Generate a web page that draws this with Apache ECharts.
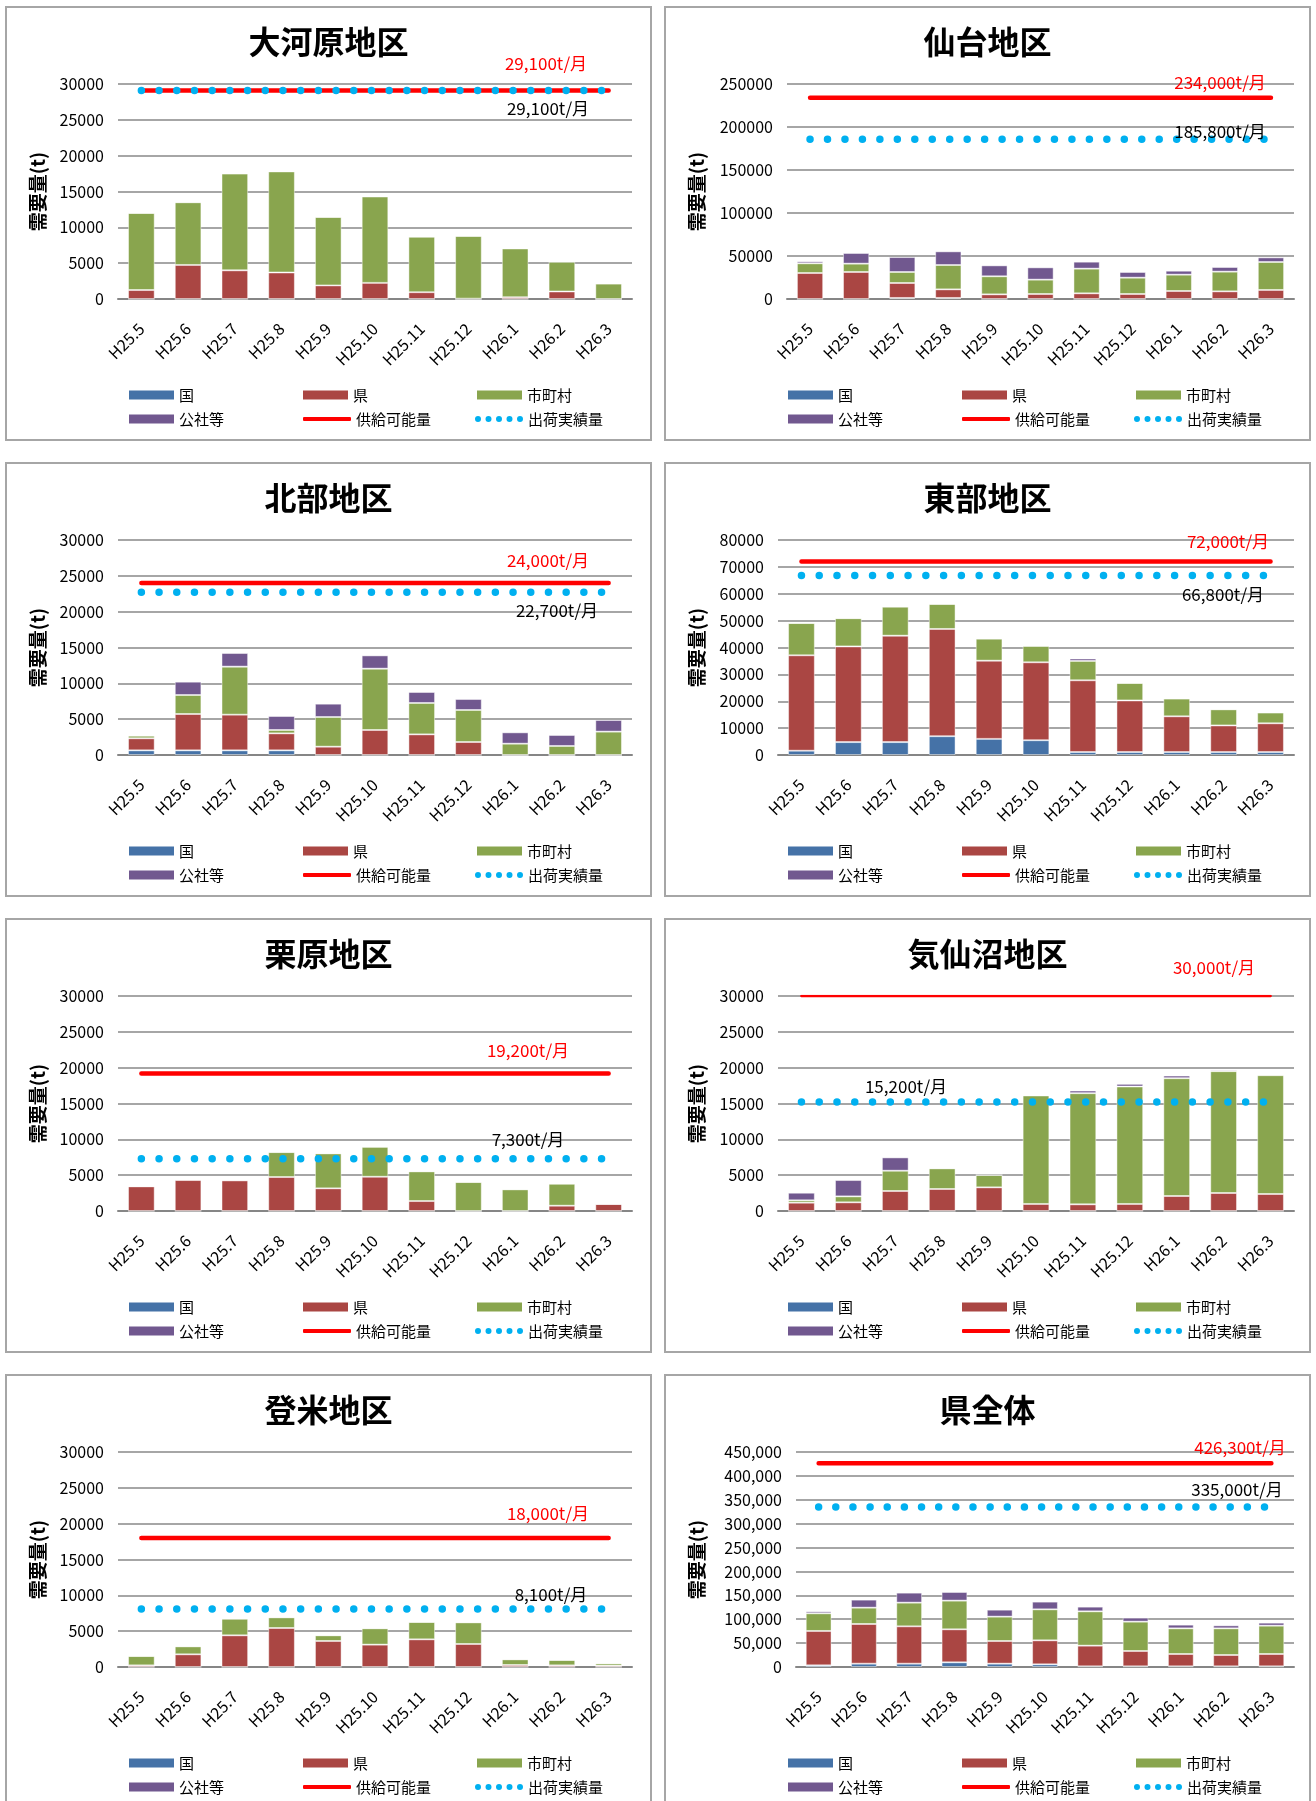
<!DOCTYPE html>
<html>
<head>
<meta charset="utf-8">
<script src="https://cdn.jsdelivr.net/npm/echarts@6.0.0/dist/echarts.min.js"></script>
<style>
  html, body { margin: 0; padding: 0; background: #fff; overflow: hidden; }
  .panel {
    position: absolute;
    width: 647px;
    height: 435px;
    box-sizing: border-box;
    border: 2px solid #a6a6a6;
    background: #fff;
  }
</style>
</head>
<body>
<script>
  const FONT = '"Noto Sans CJK JP", "Noto Sans", sans-serif'

  const categories = ['H25.5', 'H25.6', 'H25.7', 'H25.8', 'H25.9', 'H25.10', 'H25.11', 'H25.12', 'H26.1', 'H26.2', 'H26.3']
  const regionTitles = ['大河原地区', '仙台地区', '北部地区', '東部地区', '栗原地区', '気仙沼地区', '登米地区', '県全体']

  // 大河原地区
  const oogawaraKuni = [0, 0, 0, 0, 0, 0, 0, 0, 0, 0, 0]
  const oogawaraKen = [1250, 4750, 4000, 3700, 1900, 2250, 950, 50, 250, 1050, 0]
  const oogawaraShichoson = [10750, 8750, 13500, 14100, 9550, 12050, 7750, 8750, 6800, 4150, 2150]
  const oogawaraKosha = [0, 0, 0, 0, 0, 0, 0, 0, 0, 0, 0]

  // 仙台地区
  const sendaiKuni = [0, 0, 1200, 1200, 0, 0, 0, 0, 0, 0, 0]
  const sendaiKen = [30200, 31400, 17400, 10000, 5400, 5800, 6600, 5800, 9300, 8900, 10500]
  const sendaiShichoson = [11300, 9700, 12800, 28300, 21000, 16700, 28700, 19000, 19000, 22900, 32500]
  const sendaiKosha = [2300, 12400, 17400, 15900, 12700, 14300, 8100, 6600, 4600, 5400, 5400]

  // 北部地区
  const hokubuKuni = [650, 650, 650, 650, 0, 0, 0, 0, 0, 0, 0]
  const hokubuKen = [1680, 5070, 4980, 2370, 1160, 3490, 2880, 1810, 0, 0, 0]
  const hokubuShichoson = [370, 2650, 6700, 470, 4140, 8560, 4380, 4470, 1580, 1260, 3260]
  const hokubuKosha = [0, 1860, 1900, 1950, 1860, 1850, 1530, 1530, 1580, 1530, 1620]

  // 東部地区
  const toubuKuni = [1600, 4800, 4800, 7000, 6000, 5500, 1100, 1100, 1100, 1100, 1100]
  const toubuKen = [35500, 35600, 39600, 39900, 29100, 29000, 26700, 19200, 13300, 9900, 10700]
  const toubuShichoson = [12000, 10500, 10800, 9300, 8200, 6100, 7200, 6500, 6600, 6000, 4000]
  const toubuKosha = [0, 0, 0, 0, 0, 0, 900, 0, 0, 0, 0]

  // 栗原地区
  const kuriharaKuni = [0, 0, 0, 0, 0, 0, 0, 0, 0, 0, 0]
  const kuriharaKen = [3440, 4320, 4270, 4740, 3160, 4780, 1390, 0, 0, 740, 980]
  const kuriharaShichoson = [0, 90, 140, 3480, 4880, 4180, 4140, 4040, 3020, 3070, 0]
  const kuriharaKosha = [0, 0, 0, 0, 0, 0, 0, 0, 0, 0, 0]

  // 気仙沼地区
  const kesennumaKuni = [0, 0, 0, 0, 0, 0, 0, 0, 0, 0, 0]
  const kesennumaKen = [1160, 1210, 2790, 3070, 3300, 980, 930, 980, 2090, 2510, 2370]
  const kesennumaShichoson = [330, 830, 2830, 2880, 1720, 15140, 15510, 16390, 16440, 17000, 16580]
  const kesennumaKosha = [1060, 2280, 1860, 0, 0, 0, 370, 370, 370, 180, 140]

  // 登米地区
  const tomeKuni = [0, 0, 0, 0, 0, 0, 0, 0, 0, 0, 0]
  const tomeKen = [230, 1770, 4420, 5440, 3630, 3120, 3860, 3210, 280, 230, 190]
  const tomeShichoson = [1300, 1110, 2320, 1490, 790, 2280, 2420, 3020, 790, 750, 320]
  const tomeKosha = [0, 0, 0, 0, 0, 0, 0, 0, 0, 0, 0]

  // 県全体
  const zentaiKuni = [3500, 7000, 7000, 9800, 7000, 5600, 1400, 1400, 1400, 1400, 1400]
  const zentaiKen = [71900, 83000, 78100, 69100, 47400, 50200, 43300, 32100, 25800, 23700, 25800]
  const zentaiShichoson = [37000, 34200, 49600, 60000, 51000, 64900, 71800, 61400, 53700, 55800, 59300]
  const zentaiKosha = [4100, 16800, 20900, 18100, 14600, 16100, 9800, 8400, 7700, 6300, 6300]

  // 供給可能量 / 出荷実績量 (t/月)
  const supplyCapacity = [29100, 234000, 24000, 72000, 19200, 30000, 18000, 426300]
  const shipmentActual = [29100, 185800, 22700, 66800, 7300, 15200, 8100, 335000]

  // 縦軸
  const axisMax = [30000, 250000, 30000, 80000, 30000, 30000, 30000, 450000]
  const axisInterval = [5000, 50000, 5000, 10000, 5000, 5000, 5000, 50000]

  const regionSeries = [
    [oogawaraKuni, oogawaraKen, oogawaraShichoson, oogawaraKosha],
    [sendaiKuni, sendaiKen, sendaiShichoson, sendaiKosha],
    [hokubuKuni, hokubuKen, hokubuShichoson, hokubuKosha],
    [toubuKuni, toubuKen, toubuShichoson, toubuKosha],
    [kuriharaKuni, kuriharaKen, kuriharaShichoson, kuriharaKosha],
    [kesennumaKuni, kesennumaKen, kesennumaShichoson, kesennumaKosha],
    [tomeKuni, tomeKen, tomeShichoson, tomeKosha],
    [zentaiKuni, zentaiKen, zentaiShichoson, zentaiKosha]
  ]

  const barNames = ['国', '県', '市町村', '公社等']
  const barColors = ['#4572A7', '#AA4643', '#89A54E', '#71588F']

  // パネル配置（ピクセル）
  const layout = [
    { left: 5, top: 6, gridLeft: 111, gridRight: 18, red: [539, 56], black: [541, 101] },
    { left: 664, top: 6, gridLeft: 121, gridRight: 15, red: [554, 75], black: [554, 124] },
    { left: 5, top: 462, gridLeft: 111, gridRight: 18, red: [541, 97], black: [550, 147] },
    { left: 664, top: 462, gridLeft: 112, gridRight: 15, red: [562, 78], black: [557, 131] },
    { left: 5, top: 918, gridLeft: 111, gridRight: 18, red: [521, 131], black: [521, 220] },
    { left: 664, top: 918, gridLeft: 112, gridRight: 15, red: [548, 48], black: [240, 167], supplyWidth: 2.5 },
    { left: 5, top: 1374, gridLeft: 111, gridRight: 18, red: [541, 138], black: [544, 219] },
    { left: 664, top: 1374, gridLeft: 130, gridRight: 15, red: [574, 72], black: [571, 114], comma: true }
  ]

  const GRID_TOP = 76
  const GRID_HEIGHT = 215
  const LEGEND_ROW1 = 387
  const LEGEND_ROW2 = 411
  const LEGEND_COLS = [122, 296, 470]

  // 凡例用の点線アイコン
  const DOT_ICON = 'path://' + [0, 10.5, 21, 31.5, 42].map(function (x) {
    return 'M' + x + ',3a3,3 0 1,0 6,0a3,3 0 1,0 -6,0Z'
  }).join(' ')

  function fmt(v) {
    return v.toLocaleString('en-US')
  }

  function legendItem(name, col, row, opts) {
    return Object.assign({
      data: [name],
      left: LEGEND_COLS[col],
      top: (row === 0 ? LEGEND_ROW1 : LEGEND_ROW2) - 7.5,
      padding: 0,
      icon: 'rect',
      itemWidth: 45,
      itemHeight: 9,
      selectedMode: false,
      itemStyle: { borderWidth: 0 },
      textStyle: { fontSize: 15, color: '#000', fontFamily: FONT }
    }, opts || {})
  }

  function buildOption(i, width) {
    const lay = layout[i]
    const plotW = width - lay.gridLeft - lay.gridRight
    const catW = plotW / categories.length
    const dotPeriod = catW * (categories.length - 1) / 26.4

    const series = regionSeries[i].map(function (vals, k) {
      return {
        name: barNames[k],
        type: 'bar',
        stack: 'total',
        barCategoryGap: '43%',
        data: vals,
        itemStyle: { color: barColors[k], borderColor: 'rgba(255,255,255,0.45)', borderWidth: 1 }
      }
    })
    series.push({
      name: '供給可能量',
      type: 'line',
      symbol: 'none',
      data: categories.map(function () { return supplyCapacity[i] }),
      itemStyle: { color: '#ff0000' },
      lineStyle: { color: '#ff0000', width: lay.supplyWidth || 4.5, cap: 'round' },
      z: 5
    })
    series.push({
      name: '出荷実績量',
      type: 'line',
      symbol: 'none',
      data: categories.map(function () { return shipmentActual[i] }),
      itemStyle: { color: '#00b0f0' },
      lineStyle: { color: '#00b0f0', width: 7.5, type: [0, dotPeriod], cap: 'round' },
      z: 6
    })

    const labelStyle = function (color) {
      return {
        fill: color,
        fontSize: 17,
        fontFamily: FONT,
        align: 'center',
        verticalAlign: 'middle',
        textAlign: 'center',
        textVerticalAlign: 'middle'
      }
    }

    return {
      animation: false,
      textStyle: { fontFamily: FONT },
      title: {
        text: regionTitles[i],
        left: 'center',
        top: 18,
        padding: 0,
        textStyle: { fontSize: 32, fontWeight: 'bold', color: '#000', fontFamily: FONT }
      },
      grid: {
        left: lay.gridLeft,
        right: lay.gridRight,
        top: GRID_TOP,
        height: GRID_HEIGHT,
        containLabel: false,
        outerBoundsMode: 'none'
      },
      xAxis: {
        type: 'category',
        data: categories,
        axisTick: { show: false },
        axisLine: { lineStyle: { color: '#868686', width: 2 } },
        axisLabel: { rotate: 45, margin: 27, fontSize: 16, color: '#000', interval: 0, fontFamily: FONT },
        splitLine: { show: false }
      },
      yAxis: {
        type: 'value',
        min: 0,
        max: axisMax[i],
        interval: axisInterval[i],
        name: '需要量(t)',
        nameLocation: 'middle',
        nameRotate: 90,
        nameGap: lay.gridLeft - 40,
        nameTextStyle: { fontSize: 19, fontWeight: 'bold', color: '#000', fontFamily: FONT },
        axisLine: { show: false },
        axisTick: { show: false },
        axisLabel: {
          fontSize: 16,
          color: '#000',
          margin: 14,
          fontFamily: FONT,
          formatter: lay.comma ? fmt : function (v) { return String(v) }
        },
        splitLine: { lineStyle: { color: '#a6a6a6', width: 2 } }
      },
      legend: [
        legendItem('国', 0, 0),
        legendItem('公社等', 0, 1),
        legendItem('県', 1, 0),
        legendItem({ name: '供給可能量', icon: 'roundRect' }, 1, 1, { itemWidth: 48, itemHeight: 4 }),
        legendItem('市町村', 2, 0),
        legendItem({ name: '出荷実績量', icon: DOT_ICON }, 2, 1, { left: LEGEND_COLS[2] - 2, itemWidth: 48, itemHeight: 6 })
      ],
      graphic: [
        { type: 'text', x: lay.red[0], y: lay.red[1], z: 100, style: Object.assign({ text: fmt(supplyCapacity[i]) + 't/月' }, labelStyle('#ff0000')) },
        { type: 'text', x: lay.black[0], y: lay.black[1], z: 100, style: Object.assign({ text: fmt(shipmentActual[i]) + 't/月' }, labelStyle('#000')) }
      ],
      series: series
    }
  }

  layout.forEach(function (lay, i) {
    const div = document.createElement('div')
    div.className = 'panel'
    div.style.left = lay.left + 'px'
    div.style.top = lay.top + 'px'
    document.body.appendChild(div)
    const chart = echarts.init(div, null, { renderer: 'canvas' })
    chart.setOption(buildOption(i, chart.getWidth()))
  })
</script>
</body>
</html>
